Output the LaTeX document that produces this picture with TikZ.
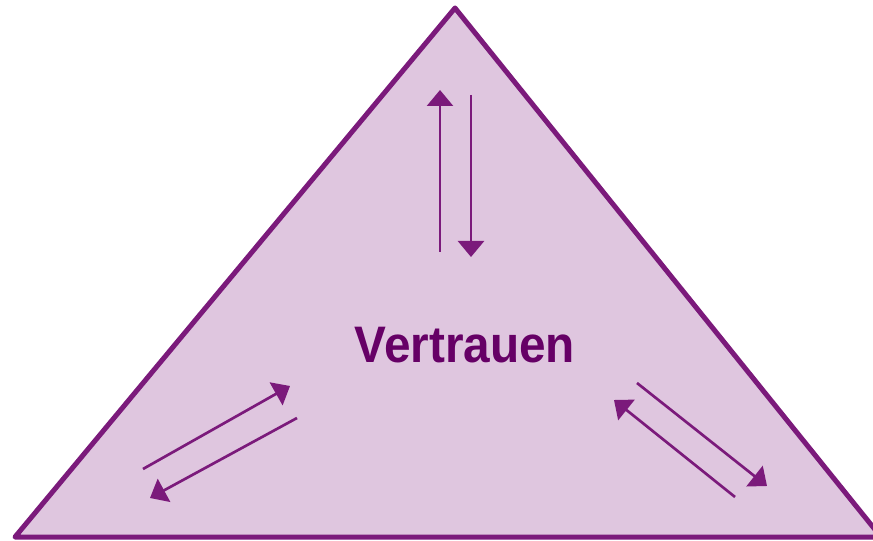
\documentclass[tikz,border=0pt]{standalone}
\usepackage{fontspec}
\setmainfont{Liberation Sans}
\usepackage{xcolor}
\usetikzlibrary{arrows.meta}
\definecolor{lila}{HTML}{7B1A7B}
\definecolor{lilahell}{HTML}{DFC6DF}
\definecolor{lilatext}{HTML}{660066}

\begin{document}
\begin{tikzpicture}[x=0.75pt,y=-0.75pt,
  pfeil/.style={draw=lila,line width=2pt,-{Triangle[length=12pt,width=19.5pt]}}]
  \useasboundingbox (0,0) rectangle (873,541);
  % --- Dreieck ---
  \coordinate (spitze) at (455,8);
  \coordinate (links) at (15,537);
  \coordinate (rechts) at (881,537);
  \filldraw[fill=lilahell,draw=lila,line width=3.75pt,line join=round]
    (spitze) -- (links) -- (rechts) -- cycle;
  % --- Text ---
  \node[text=lilatext,font=\fontsize{38.5pt}{40pt}\selectfont\bfseries,xscale=0.93]
    (vertrauen) at (465,345) {Vertrauen};
  % --- oben ---
  \coordinate (o1a) at (440,252);
  \coordinate (o1b) at (440,90);
  \coordinate (o2a) at (471,95);
  \coordinate (o2b) at (471,257);
  \draw[pfeil] (o1a) -- (o1b);
  \draw[pfeil] (o2a) -- (o2b);
  % --- links unten ---
  \coordinate (l1a) at (143,469);
  \coordinate (l1b) at (290,386);
  \coordinate (l2a) at (297,418);
  \coordinate (l2b) at (150,498);
  \draw[pfeil] (l1a) -- (l1b);
  \draw[pfeil] (l2a) -- (l2b);
  % --- rechts unten ---
  \coordinate (r1a) at (637,383);
  \coordinate (r1b) at (767,486);
  \coordinate (r2a) at (735,497);
  \coordinate (r2b) at (614,400);
  \draw[pfeil] (r1a) -- (r1b);
  \draw[pfeil] (r2a) -- (r2b);
\end{tikzpicture}
\end{document}
